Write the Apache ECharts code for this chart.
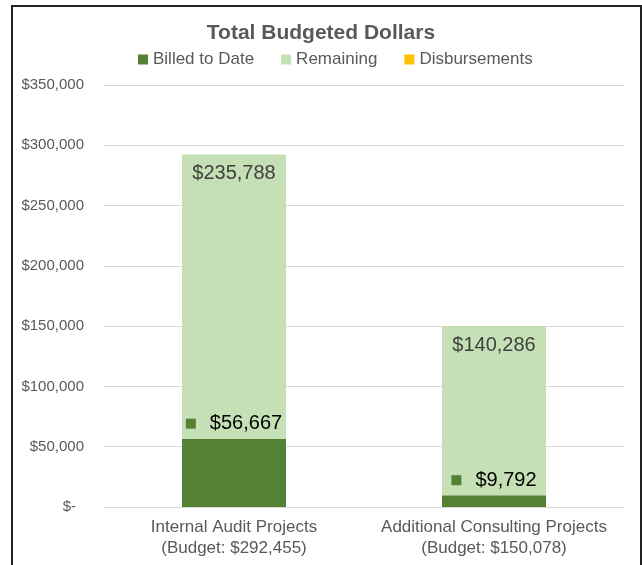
<!DOCTYPE html>
<html>
<head>
<meta charset="utf-8">
<script src="https://cdn.jsdelivr.net/npm/echarts@6/dist/echarts.min.js"></script>
<style>
  html, body { margin: 0; padding: 0; background: #fff; }
  #wrap { position: relative; width: 642px; height: 565px; }
  #chart { width: 642px; height: 565px; }
  #frame { position: absolute; left: 11px; top: 5px; width: 627px; height: 580px;
           border: 2px solid #222; pointer-events: none; }
</style>
</head>
<body>
<div id="wrap">
  <div id="chart"></div>
  <div id="frame"></div>
</div>
<script>
// Project groups and their budget split
const categories = ['Internal Audit Projects', 'Additional Consulting Projects'];
const billedToDate = [56667, 9792];
const remaining = [235788, 140286];
const disbursements = [0, 0];
const yTicks = { min: 0, max: 350000, interval: 50000 };

const GREY = '#595959';
const FONT = '"Liberation Sans", Arial, sans-serif';

function money(v) {
  return '$' + Math.round(v).toLocaleString('en-US');
}

const budgets = categories.map((c, i) => billedToDate[i] + remaining[i] + disbursements[i]);
const catLabels = categories.map((c, i) => c + '\n(Budget: ' + money(budgets[i]) + ')');

const chart = echarts.init(document.getElementById('chart'));
chart.setOption({
  backgroundColor: '#fff',
  animation: false,
  textStyle: { fontFamily: FONT },
  title: {
    text: 'Total Budgeted Dollars',
    left: 'center',
    top: 18,
    textStyle: { fontFamily: FONT, fontSize: 21, fontWeight: 'bold', color: GREY }
  },
  legend: {
    top: 46,
    left: 133,
    itemWidth: 10,
    itemHeight: 10,
    itemGap: 27,
    icon: 'rect',
    textStyle: { fontFamily: FONT, fontSize: 17, color: GREY },
    data: ['Billed to Date', 'Remaining', 'Disbursements']
  },
  grid: { left: 104, right: 18, top: 85, bottom: 58 },
  xAxis: {
    type: 'category',
    data: catLabels,
    axisTick: { show: false },
    axisLine: { lineStyle: { color: '#d9d9d9', width: 1 } },
    axisLabel: {
      color: GREY, fontFamily: FONT, fontSize: 17, lineHeight: 21, margin: 10, interval: 0
    }
  },
  yAxis: {
    type: 'value',
    min: yTicks.min,
    max: yTicks.max,
    interval: yTicks.interval,
    axisLine: { show: false },
    axisTick: { show: false },
    splitLine: { lineStyle: { color: '#d9d9d9', width: 1 } },
    axisLabel: {
      color: GREY, fontFamily: FONT, fontSize: 15, margin: 20,
      formatter: v => v === 0 ? '{z|$-}' : money(v),
      rich: { z: { color: GREY, fontFamily: FONT, fontSize: 15, padding: [0, 8, 0, 0] } }
    }
  },
  series: [
    {
      name: 'Billed to Date',
      type: 'bar',
      stack: 'total',
      barWidth: '40%',
      itemStyle: { color: '#548235' },
      data: billedToDate,
      label: {
        show: true,
        position: 'top',
        distance: 5,
        formatter: p => '{sq|}{v|' + money(p.value) + '}',
        rich: {
          sq: { width: 10, height: 10, backgroundColor: '#548235' },
          v: { color: '#000', fontFamily: FONT, fontSize: 20, padding: [0, 0, 0, 14] }
        }
      }
    },
    {
      name: 'Remaining',
      type: 'bar',
      stack: 'total',
      barWidth: '40%',
      itemStyle: { color: '#C5E0B4' },
      data: remaining,
      label: {
        show: true,
        position: 'insideTop',
        distance: 9,
        color: '#404040',
        fontFamily: FONT,
        fontSize: 20,
        formatter: p => money(p.value)
      }
    },
    {
      name: 'Disbursements',
      type: 'bar',
      stack: 'total',
      barWidth: '40%',
      itemStyle: { color: '#FFC000' },
      data: disbursements
    }
  ]
});
</script>
</body>
</html>
